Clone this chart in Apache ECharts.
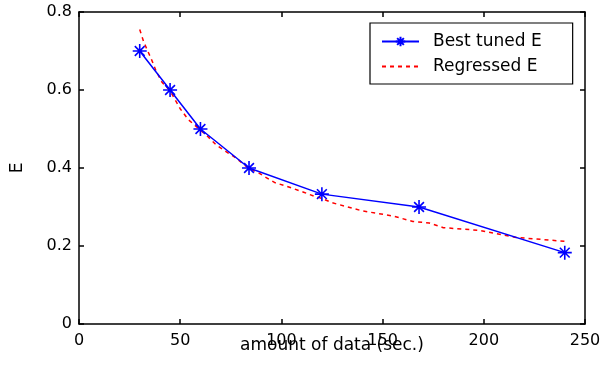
<!DOCTYPE html>
<html>
<head>
<meta charset="utf-8">
<script src="https://cdn.jsdelivr.net/npm/echarts@6/dist/echarts.min.js"></script>
<style>html,body{margin:0;padding:0;background:#fff}#c{width:603px;height:369px}</style>
</head>
<body>
<div id="c"></div>
<script>
const xTicks = [0, 50, 100, 150, 200, 250];
const yTicks = [0, 0.2, 0.4, 0.6, 0.8];
const bestX = [30, 45, 60, 84, 120, 168, 240];
const bestE = [0.70, 0.60, 0.50, 0.40, 0.333, 0.30, 0.183];
const regX = [30, 32, 36, 38, 41, 45, 50, 54, 60, 63, 68, 73, 78, 84, 88, 92, 97, 102, 106, 111, 116, 120, 125, 140, 155, 165, 173, 180, 198, 216, 240];
const regE = [0.755, 0.723, 0.676, 0.65, 0.62, 0.598, 0.552, 0.524, 0.497, 0.484, 0.458, 0.441, 0.424, 0.398, 0.39, 0.377, 0.362, 0.354, 0.347, 0.338, 0.328, 0.322, 0.311, 0.29, 0.277, 0.263, 0.259, 0.247, 0.24, 0.222, 0.212];

const font = 'DejaVu Sans, Liberation Sans, sans-serif';
const star = 'path://M0,-10L0,10M-10,0L10,0M-7,-7L7,7M-7,7L7,-7';
const chart = echarts.init(document.getElementById('c'), null, {renderer: 'canvas'});
const axLine = {show: true, onZero: false, lineStyle: {color: '#000', width: 1.5}};
const tick = {show: true, inside: true, length: 5, lineStyle: {color: '#000', width: 1.5}};
chart.setOption({
  animation: false,
  backgroundColor: '#fff',
  grid: {left: 79, right: 18, top: 12, bottom: 45, containLabel: false, outerBoundsMode: 'none'},
  legend: {
    left: 370, top: 23,
    orient: 'vertical',
    itemWidth: 37, itemHeight: 12, itemGap: 8,
    padding: [10, 31, 9, 11],
    borderColor: '#000', borderWidth: 1.2,
    backgroundColor: '#fff',
    textStyle: {fontFamily: font, fontSize: 17, color: '#000', padding: [0, 0, 0, 9]},
    data: [
      {name: 'Best tuned E'},
      {name: 'Regressed E', itemStyle: {opacity: 0}}
    ]
  },
  xAxis: [{
    type: 'value', min: 0, max: 250, interval: 50, position: 'bottom',
    axisLine: axLine, axisTick: tick, splitLine: {show: false},
    axisLabel: {fontFamily: font, fontSize: 16, color: '#000', margin: 9,
      formatter: v => xTicks.includes(v) ? String(v) : ''},
    name: 'amount of data (sec.)', nameLocation: 'middle', nameGap: 13, nameMoveOverlap: false,
    nameTextStyle: {fontFamily: font, fontSize: 17, color: '#000', verticalAlign: 'top'}
  }, {
    type: 'value', min: 0, max: 250, interval: 50, position: 'top',
    axisLine: axLine, axisTick: tick, axisLabel: {show: false}, splitLine: {show: false}
  }],
  yAxis: [{
    type: 'value', min: 0, max: 0.8, interval: 0.2, position: 'left',
    axisLine: axLine, axisTick: tick, splitLine: {show: false},
    axisLabel: {fontFamily: font, fontSize: 16, color: '#000', margin: 7,
      formatter: v => { const t = yTicks.find(y => Math.abs(y - v) < 1e-9); return t === undefined ? '' : (t === 0 ? '0' : t.toFixed(1)); }},
    name: 'E', nameLocation: 'middle', nameGap: 53, nameRotate: 90, nameMoveOverlap: false,
    nameTextStyle: {fontFamily: font, fontSize: 17, color: '#000'}
  }, {
    type: 'value', min: 0, max: 0.8, interval: 0.2, position: 'right',
    axisLine: axLine, axisTick: tick, axisLabel: {show: false}, splitLine: {show: false}
  }],
  series: [{
    name: 'Best tuned E', type: 'line',
    data: bestX.map((x, i) => [x, bestE[i]]),
    symbol: star, symbolSize: 14,
    itemStyle: {color: '#0000ff', borderColor: '#0000ff', borderWidth: 1.6},
    lineStyle: {color: '#0000ff', width: 1.5},
    z: 3
  }, {
    name: 'Regressed E', type: 'line',
    data: regX.map((x, i) => [x, regE[i]]),
    symbol: 'none',
    itemStyle: {color: '#ff0000'},
    lineStyle: {color: '#ff0000', width: 1.5, type: [4, 4]},
    z: 2
  }]
});
</script>
</body>
</html>
